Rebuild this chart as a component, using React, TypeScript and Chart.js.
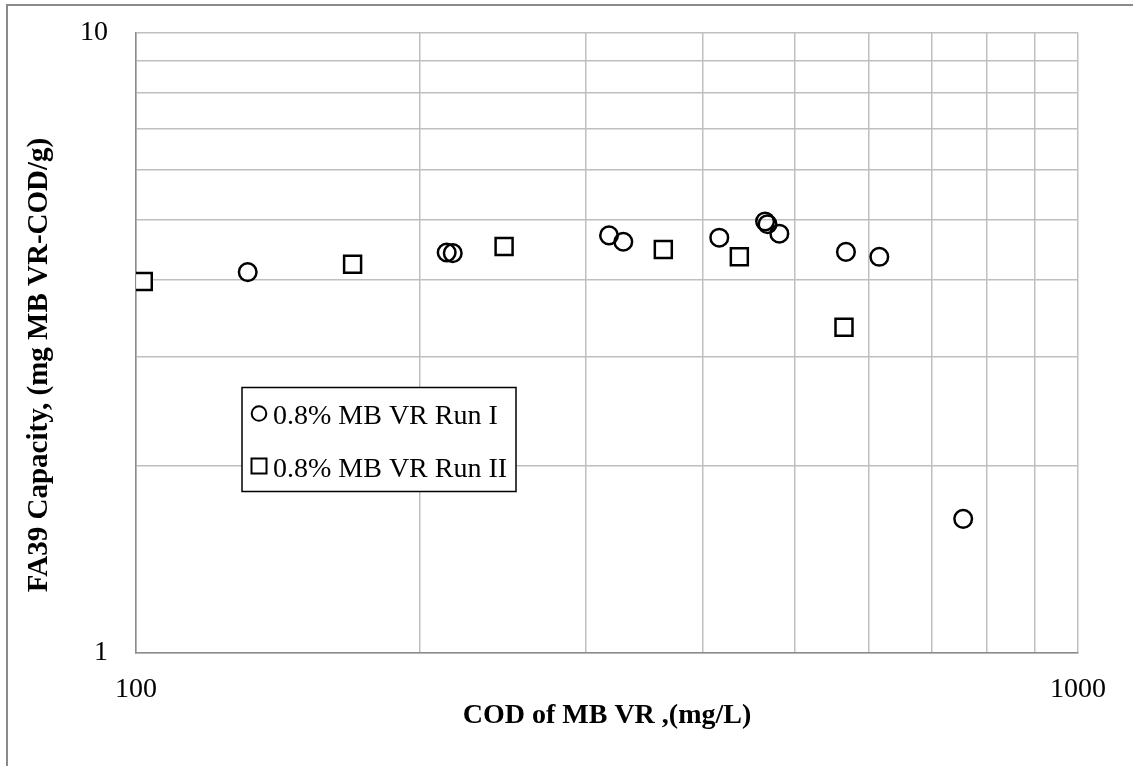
import React, { useEffect, useRef } from "react";
import { Chart, registerables } from "chart.js";

Chart.register(...registerables);

// Run I (circles)
const runIX = [131.4, 213.7, 216.9, 317.8, 329.1, 416.1, 465.4, 468.2, 481.9, 567.1, 615.3, 755.3];
const runIY = [4.11, 4.42, 4.41, 4.71, 4.6, 4.67, 4.96, 4.91, 4.74, 4.43, 4.35, 1.645];
// Run II (squares)
const runIIX = [101.8, 169.8, 245.9, 362.9, 437.0, 564.4];
const runIIY = [3.97, 4.23, 4.52, 4.47, 4.35, 3.35];

const seriesLabels = ["0.8% MB VR Run I", "0.8% MB VR Run II"];
const xTicks = [100, 200, 300, 400, 500, 600, 700, 800, 900, 1000];
const yTicks = [1, 2, 3, 4, 5, 6, 7, 8, 9, 10];
const xShown = [100, 1000];
const yShown = [1, 10];
const xTitle = "COD of MB VR ,(mg/L)";
const yTitle = "FA39 Capacity, (mg MB VR-COD/g)";

const FONT = '"Liberation Serif", "Times New Roman", serif';

const legendPlugin = {
  id: "boxLegend",
  afterDatasetsDraw(chart: any) {
    const ctx = chart.ctx as CanvasRenderingContext2D;
    ctx.save();
    const bx = 242, by = 387.5, bw = 274, bh = 104;
    ctx.fillStyle = "#ffffff";
    ctx.fillRect(bx, by, bw, bh);
    ctx.strokeStyle = "#000000";
    ctx.lineWidth = 1.5;
    ctx.strokeRect(bx, by, bw, bh);
    // markers
    ctx.lineWidth = 2;
    ctx.beginPath();
    ctx.arc(259, 413.5, 7.3, 0, Math.PI * 2);
    ctx.stroke();
    ctx.strokeRect(251.5, 458.5, 15, 15);
    ctx.fillStyle = "#000000";
    ctx.font = `28px ${FONT}`;
    ctx.textBaseline = "alphabetic";
    ctx.textAlign = "left";
    ctx.fillText(seriesLabels[0], 273, 424);
    ctx.fillText(seriesLabels[1], 273, 477);
    ctx.restore();
  },
};

const yTitlePlugin = {
  id: "yTitleText",
  afterDraw(chart: any) {
    const ctx = chart.ctx as CanvasRenderingContext2D;
    ctx.save();
    ctx.translate(40, 365);
    ctx.rotate(-Math.PI / 2);
    ctx.fillStyle = "#000000";
    ctx.font = `bold 29px ${FONT}`;
    ctx.textAlign = "center";
    ctx.textBaseline = "middle";
    ctx.fillText(yTitle, 0, 0);
    ctx.restore();
  },
};

export default function App() {
  const ref = useRef<HTMLCanvasElement | null>(null);

  useEffect(() => {
    if (!ref.current) return;
    const chart = new Chart(ref.current, {
      type: "scatter",
      data: {
        datasets: [
          {
            label: seriesLabels[0],
            data: runIX.map((x, i) => ({ x, y: runIY[i] })),
            pointStyle: "circle",
            pointRadius: 8.8,
            pointHoverRadius: 8.8,
            borderWidth: 2.5,
            borderColor: "#000000",
            backgroundColor: "rgba(0,0,0,0)",
          },
          {
            label: seriesLabels[1],
            data: runIIX.map((x, i) => ({ x, y: runIIY[i] })),
            pointStyle: "rect",
            pointRadius: 12,
            pointHoverRadius: 12,
            borderWidth: 2.5,
            borderColor: "#000000",
            backgroundColor: "#ffffff",
          },
        ],
      },
      options: {
        animation: false,
        responsive: false,
        layout: { padding: { left: 0, right: 55, top: 32.5, bottom: 0 } },
        plugins: {
          legend: { display: false },
          tooltip: { enabled: false },
          title: { display: false },
        },
        scales: {
          x: {
            type: "logarithmic",
            min: 100,
            max: 1000,
            afterBuildTicks: (s: any) => {
              s.ticks = xTicks.map((v) => ({ value: v }));
            },
            afterFit: (s: any) => {
              s.height = 113;
              s.paddingLeft = 0;
              s.paddingRight = 0;
            },
            ticks: {
              autoSkip: false,
              maxRotation: 0,
              padding: 20,
              color: "#000000",
              font: { family: FONT, size: 28 },
              callback: (v: any) => (xShown.includes(Number(v)) ? String(v) : ""),
            },
            grid: { color: "#bfbfbf", lineWidth: 1.5, drawTicks: false },
            border: { color: "#8c8c8c", width: 1.5 },
            title: {
              display: true,
              text: xTitle,
              color: "#000000",
              font: { family: FONT, size: 28, weight: "bold" },
              padding: { top: 0, bottom: 33 },
            },
          },
          y: {
            type: "logarithmic",
            min: 1,
            max: 10,
            afterBuildTicks: (s: any) => {
              s.ticks = yTicks.map((v) => ({ value: v }));
            },
            afterFit: (s: any) => {
              s.width = 136;
              s.paddingTop = 0;
              s.paddingBottom = 0;
            },
            ticks: {
              autoSkip: false,
              padding: 28,
              color: "#000000",
              font: { family: FONT, size: 28 },
              callback: (v: any) => (yShown.includes(Number(v)) ? String(v) : ""),
            },
            grid: { color: "#bfbfbf", lineWidth: 1.5, drawTicks: false },
            border: { color: "#8c8c8c", width: 1.5 },
            title: { display: false },
          },
        },
      },
      plugins: [legendPlugin, yTitlePlugin],
    });
    return () => chart.destroy();
  }, []);

  return (
    <div
      style={{
        position: "fixed",
        left: 0,
        top: 0,
        width: 1133,
        height: 766,
        overflow: "hidden",
        background: "#ffffff",
      }}
    >
      <div
        style={{
          position: "absolute",
          left: 6,
          top: 4,
          width: 1200,
          height: 900,
          border: "2px solid #8a8a8a",
        }}
      />
      <canvas
        ref={ref}
        width={1133}
        height={766}
        style={{ position: "absolute", left: 0, top: 0, width: 1133, height: 766 }}
      />
    </div>
  );
}
